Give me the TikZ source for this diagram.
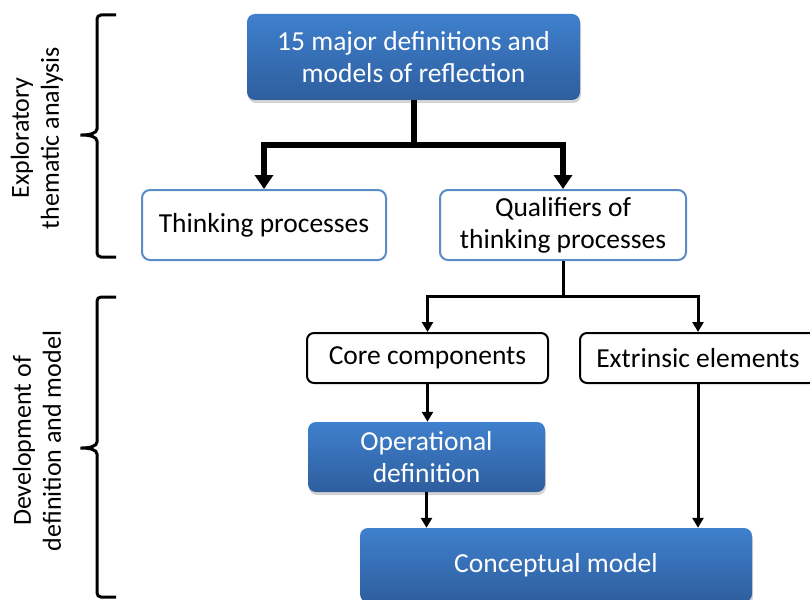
\documentclass[tikz,border=0pt]{standalone}
\usepackage{fontspec}
\setmainfont{Carlito}
\usetikzlibrary{shapes,shadows,arrows.meta}
\definecolor{boxtop}{HTML}{3F80CD}
\definecolor{boxbot}{HTML}{2E5E9E}
\definecolor{boxline}{HTML}{5B8CC8}

\begin{document}
\begin{tikzpicture}[x=1pt,y=-1pt]
\tikzstyle{every node}=[align=center,font=\fontsize{27.5}{32}\selectfont]
\tikzstyle{bluebox}=[rectangle,rounded corners=8pt,top color=boxtop,bottom color=boxbot,text=white,draw=none,drop shadow={opacity=0.35,shadow xshift=1pt,shadow yshift=-3pt}]
\tikzstyle{whitebox}=[rectangle,rounded corners=8pt,fill=white,draw=boxline,line width=2pt]
\tikzstyle{plainbox}=[rectangle,rounded corners=7pt,fill=white,draw=black,line width=2pt]
\tikzstyle{bigarrow}=[line width=6pt,-{Triangle[width=18pt,length=14pt]}]
\tikzstyle{smallarrow}=[line width=3pt,-{Triangle[width=11pt,length=10pt]}]
\tikzstyle{brace}=[line width=3pt,rounded corners=4pt]
\tikzstyle{stagelabel}=[rotate=90,font=\fontsize{26}{30}\selectfont]
\useasboundingbox (0,0) rectangle (810,599);

\node[bluebox,minimum width=333pt,minimum height=86pt] (defs) at (413.5,57) {15 major definitions and\\models of reflection};
\node[whitebox,minimum width=244pt,minimum height=70pt] (think) at (264,225) {Thinking processes};
\node[whitebox,minimum width=246pt,minimum height=70pt] (qual) at (563,225) {Qualifiers of\\thinking processes};
\node[plainbox,minimum width=241pt,minimum height=50pt] (core) at (427.5,358) {Core components};
\node[plainbox,minimum width=236pt,minimum height=50pt] (extr) at (698,358) {Extrinsic elements};
\node[bluebox,minimum width=237pt,minimum height=70pt] (oper) at (426.5,457) {Operational\\definition};
\node[bluebox,minimum width=392pt,minimum height=74pt] (concept) at (556,565) {Conceptual model};

\draw[line width=6pt] (defs.south) -- ++(0,45) coordinate (split1);
\draw[bigarrow] (split1) -| (think.north);
\draw[bigarrow] (split1) -| (qual.north);

\draw[line width=3pt] (qual.south) -- ++(0,35) coordinate (split2);
\draw[smallarrow] (split2) -| (core.north);
\draw[smallarrow] (split2) -| (extr.north);
\draw[smallarrow] (core.south) -- (core.south |- oper.north);
\draw[smallarrow] (oper.south) -- (oper.south |- concept.north);
\draw[smallarrow] (extr.south) -- (extr.south |- concept.north);

\draw[brace] (116,15) -- (97,15) -- (97,125) .. controls (97,133) and (90,135) .. (78,135) .. controls (90,135) and (97,137) .. (97,145) -- (97,257) -- (116,257);
\draw[brace] (116,297) -- (97,297) -- (97,438) .. controls (97,446) and (90,448) .. (78,448) .. controls (90,448) and (97,450) .. (97,458) -- (97,597) -- (116,597);
\node[stagelabel] (stage1) at (37,138) {Exploratory\\thematic analysis};
\node[stagelabel] (stage2) at (37,441) {Development of\\definition and model};
\end{tikzpicture}
\end{document}
